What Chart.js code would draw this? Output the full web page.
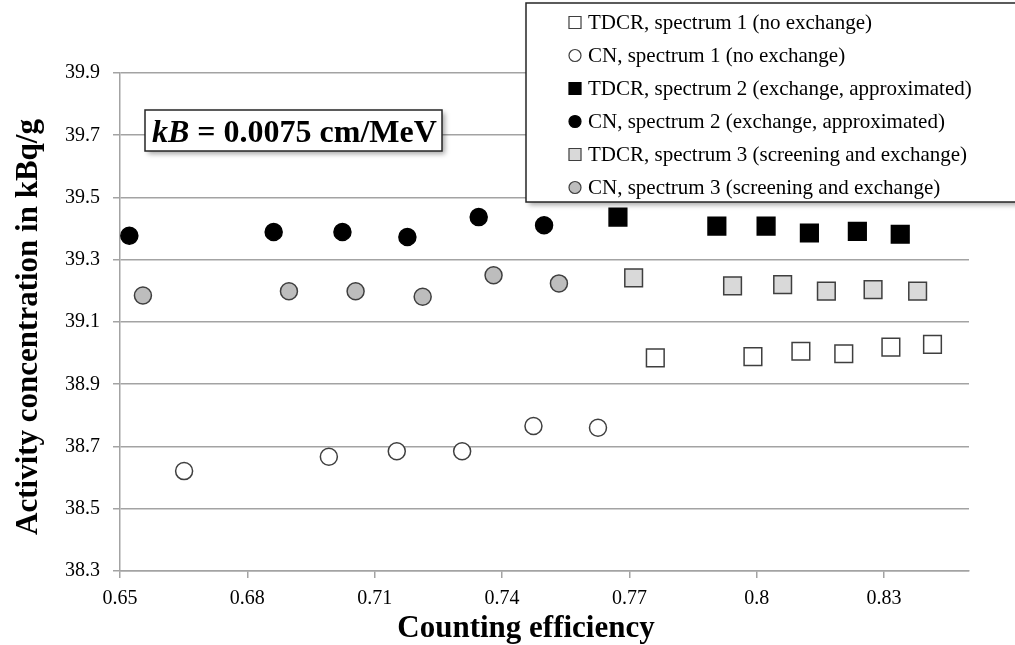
<!DOCTYPE html>
<html>
<head>
<meta charset="utf-8">
<title>Activity concentration vs counting efficiency</title>
<script src="https://cdn.jsdelivr.net/npm/chart.js@4.4.1/dist/chart.umd.min.js"></script>
<style>
    html, body { margin: 0; padding: 0; background: #fff; }
    #wrap { width: 1015px; height: 645px; }
</style>
</head>
<body>
<div id="wrap"><canvas id="effChart" width="1015" height="645"></canvas></div>
<script>
// Counting efficiency (x) and activity concentration in kBq/g (y) per series
const tdcr1Eff = [0.7761, 0.7991, 0.8104, 0.8205, 0.8316, 0.8414];
const tdcr1Act = [38.985, 38.989, 39.006, 38.998, 39.019, 39.028];
const cn1Eff = [0.6651, 0.6992, 0.7152, 0.7306, 0.7474, 0.7626];
const cn1Act = [38.621, 38.667, 38.685, 38.685, 38.766, 38.760];
const tdcr2Eff = [0.7673, 0.7906, 0.8022, 0.8124, 0.8237, 0.8338];
const tdcr2Act = [39.437, 39.408, 39.408, 39.386, 39.391, 39.382];
const cn2Eff = [0.6522, 0.6862, 0.7024, 0.7177, 0.7345, 0.7499];
const cn2Act = [39.377, 39.389, 39.389, 39.373, 39.437, 39.411];
const tdcr3Eff = [0.7710, 0.7943, 0.8061, 0.8164, 0.8274, 0.8379];
const tdcr3Act = [39.242, 39.216, 39.220, 39.199, 39.204, 39.199];
const cn3Eff = [0.6554, 0.6898, 0.7055, 0.7213, 0.7380, 0.7534];
const cn3Act = [39.185, 39.199, 39.199, 39.181, 39.250, 39.224];

const seriesLabels = [
    'TDCR, spectrum 1 (no exchange)',
    'CN, spectrum 1 (no exchange)',
    'TDCR, spectrum 2 (exchange, approximated)',
    'CN, spectrum 2 (exchange, approximated)',
    'TDCR, spectrum 3 (screening and exchange)',
    'CN, spectrum 3 (screening and exchange)'
];

const xTickLabels = ['0.65', '0.68', '0.71', '0.74', '0.77', '0.8', '0.83'];
const yTickLabels = ['38.3', '38.5', '38.7', '38.9', '39.1', '39.3', '39.5', '39.7', '39.9'];

const xTitle = 'Counting efficiency';
const yTitle = 'Activity concentration in kBq/g';
const kbValue = '0.0075 cm/MeV';

const serif = "'Liberation Serif', 'Times New Roman', serif";
const colors = {
    grid: '#a3a3a3',
    edge: '#3f3f3f',
    black: '#000000',
    white: '#ffffff',
    midGray: '#bdbdbd',
    lightGray: '#d9d9d9'
};

// marker look per series, same order as seriesLabels
const markerStyles = [
    { pointStyle: 'rect', fill: colors.white, stroke: colors.edge },
    { pointStyle: 'circle', fill: colors.white, stroke: colors.edge },
    { pointStyle: 'rect', fill: colors.black, stroke: colors.black },
    { pointStyle: 'circle', fill: colors.black, stroke: colors.black },
    { pointStyle: 'rect', fill: colors.lightGray, stroke: colors.edge },
    { pointStyle: 'circle', fill: colors.midGray, stroke: colors.edge }
];

const seriesX = [tdcr1Eff, cn1Eff, tdcr2Eff, cn2Eff, tdcr3Eff, cn3Eff];
const seriesY = [tdcr1Act, cn1Act, tdcr2Act, cn2Act, tdcr3Act, cn3Act];

function toPoints(xs, ys) {
    return xs.map((x, i) => ({ x: x, y: ys[i] }));
}

const datasets = seriesLabels.map((label, i) => {
    const m = markerStyles[i];
    return {
        label: label,
        data: toPoints(seriesX[i], seriesY[i]),
        pointStyle: m.pointStyle,
        pointRadius: m.pointStyle === 'rect' ? 12.5 : 8.5,
        backgroundColor: m.fill,
        borderColor: m.stroke,
        borderWidth: 1.5,
        showLine: false
    };
});

function drawShadowBox(ctx, x, y, w, h) {
    ctx.save();
    ctx.shadowColor = 'rgba(0, 0, 0, 0.35)';
    ctx.shadowBlur = 5;
    ctx.shadowOffsetX = 3;
    ctx.shadowOffsetY = 3;
    ctx.fillStyle = colors.white;
    ctx.fillRect(x, y, w, h);
    ctx.restore();
    ctx.save();
    ctx.strokeStyle = '#262626';
    ctx.lineWidth = 1.5;
    ctx.strokeRect(x, y, w, h);
    ctx.restore();
}

// axis titles, kB annotation and the boxed legend
const overlayPlugin = {
    id: 'overlays',
    afterDraw(chart) {
        const ctx = chart.ctx;

        ctx.save();
        ctx.fillStyle = colors.black;
        ctx.font = 'bold 31px ' + serif;
        ctx.textAlign = 'center';
        ctx.textBaseline = 'alphabetic';
        ctx.fillText(xTitle, 526, 637);

        ctx.translate(37, 327);
        ctx.rotate(-Math.PI / 2);
        ctx.fillText(yTitle, 0, 0);
        ctx.restore();

        // kB box
        drawShadowBox(ctx, 145, 110, 297, 41);
        ctx.save();
        ctx.fillStyle = colors.black;
        ctx.textBaseline = 'alphabetic';
        ctx.textAlign = 'left';
        ctx.font = 'italic bold 32px ' + serif;
        ctx.fillText('kB', 152, 141.5);
        const kbW = ctx.measureText('kB').width;
        ctx.font = 'bold 32px ' + serif;
        ctx.fillText(' = ' + kbValue, 152 + kbW, 141.5);
        ctx.restore();

        // legend
        drawShadowBox(ctx, 526, 3, 500, 199);
        ctx.save();
        ctx.font = '21px ' + serif;
        ctx.textBaseline = 'middle';
        ctx.textAlign = 'left';
        seriesLabels.forEach((label, i) => {
            const m = markerStyles[i];
            const y = 22.5 + i * 33;
            ctx.fillStyle = m.fill;
            ctx.strokeStyle = m.stroke;
            ctx.lineWidth = 1.2;
            Chart.helpers.drawPoint(ctx, {
                pointStyle: m.pointStyle,
                radius: m.pointStyle === 'rect' ? 8.5 : 6,
                rotation: 0,
                borderWidth: 1.2
            }, 575, y);
            ctx.fillStyle = colors.black;
            ctx.fillText(label, 588, y + 1);
        });
        ctx.restore();
    }
};

new Chart(document.getElementById('effChart'), {
    type: 'scatter',
    data: { datasets: datasets },
    plugins: [overlayPlugin],
    options: {
        responsive: false,
        animation: false,
        layout: { padding: { top: 73, right: 46, left: 0, bottom: 0 } },
        plugins: {
            legend: { display: false },
            tooltip: { enabled: false }
        },
        scales: {
            x: {
                type: 'linear',
                min: 0.65,
                max: 0.85,
                afterBuildTicks: (scale) => {
                    scale.ticks = xTickLabels.map(t => ({ value: parseFloat(t) }));
                },
                afterFit: (scale) => { scale.height = 74; },
                ticks: {
                    autoSkip: false,
                    maxRotation: 0,
                    padding: 9,
                    color: colors.black,
                    font: { family: serif, size: 20 },
                    callback: (v) => xTickLabels.find(t => Math.abs(parseFloat(t) - v) < 1e-6) || ''
                },
                grid: {
                    drawOnChartArea: false,
                    drawTicks: true,
                    tickLength: 7,
                    color: colors.grid,
                    lineWidth: 1.5
                },
                border: { display: true, color: colors.grid, width: 1.5 }
            },
            y: {
                type: 'linear',
                min: 38.3,
                max: 39.9,
                afterBuildTicks: (scale) => {
                    scale.ticks = yTickLabels.map(t => ({ value: parseFloat(t) }));
                },
                afterFit: (scale) => { scale.width = 120; },
                ticks: {
                    padding: 13,
                    color: colors.black,
                    font: { family: serif, size: 20 },
                    callback: (v) => yTickLabels.find(t => Math.abs(parseFloat(t) - v) < 1e-6) || ''
                },
                grid: {
                    drawTicks: true,
                    tickLength: 7,
                    color: colors.grid,
                    lineWidth: 1.5
                },
                border: { display: true, color: colors.grid, width: 1.5 }
            }
        }
    }
});
</script>
</body>
</html>
